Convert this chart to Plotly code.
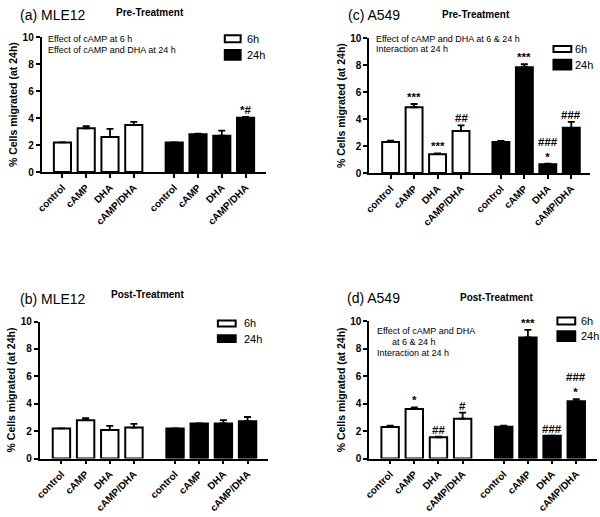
import plotly.graph_objects as go

categories = ["control", "cAMP", "DHA", "cAMP/DHA"]
time_labels = ["6h", "24h"]
y_title = "% Cells migrated (at 24h)"
y_ticks = [0, 2, 4, 6, 8, 10]

# (a) MLE12 Pre-Treatment
a_6h = [2.2, 3.25, 2.6, 3.5]
a_6h_err = [0.0, 0.16, 0.6, 0.22]
a_24h = [2.2, 2.8, 2.7, 4.02]
a_24h_err = [0.0, 0.04, 0.37, 0.07]
a_sig_6h = ["", "", "", ""]
a_sig_24h = ["", "", "", "*#"]
a_notes = ["Effect of cAMP at 6 h", "Effect of cAMP and DHA at 24 h"]

# (c) A549 Pre-Treatment
c_6h = [2.3, 4.88, 1.4, 3.12]
c_6h_err = [0.1, 0.24, 0.06, 0.42]
c_24h = [2.3, 7.85, 0.66, 3.35]
c_24h_err = [0.08, 0.22, 0.04, 0.45]
c_sig_6h = ["", "***", "***", "##"]
c_sig_24h = ["", "***", "###<br>*", "###"]
c_notes = ["Effect of cAMP and DHA at 6 & 24 h", "Interaction at 24 h"]

# (b) MLE12 Post-Treatment
b_6h = [2.2, 2.8, 2.08, 2.26]
b_6h_err = [0.0, 0.15, 0.3, 0.27]
b_24h = [2.2, 2.55, 2.56, 2.73]
b_24h_err = [0.0, 0.02, 0.25, 0.3]
b_sig_6h = ["", "", "", ""]
b_sig_24h = ["", "", "", ""]
b_notes = []

# (d) A549 Post-Treatment
d_6h = [2.3, 3.6, 1.55, 2.9]
d_6h_err = [0.1, 0.13, 0.05, 0.45]
d_24h = [2.32, 8.82, 1.66, 4.18]
d_24h_err = [0.08, 0.55, 0.0, 0.15]
d_sig_6h = ["", "*", "##", "#"]
d_sig_24h = ["", "***", "###", "###<br>*"]
d_notes = ["Effect of cAMP and DHA", "      at 6 & 24 h", "Interaction at 24 h"]

W, H = 600, 517
FONT = "Arial, Liberation Sans, sans-serif"
GROUP_GAP = 4.7


def px(x):
    return x / W


def py(y):
    return 1 - y / H


panels = [
    dict(ax="", v6=a_6h, e6=a_6h_err, v24=a_24h, e24=a_24h_err, s6=a_sig_6h, s24=a_sig_24h,
         xdom=(36, 263), ydom=(170, 32), c0=57, c1=242,
         label="(a) MLE12", label_xy=(12, 9), sub="Pre-Treatment", sub_xy=(145, 7),
         notes=a_notes, notes_xy=[(40, 34), (40, 45)],
         leg=(221, 30, 237, 37, 45, 55, 241)),
    dict(ax="2", v6=c_6h, e6=c_6h_err, v24=c_24h, e24=c_24h_err, s6=c_sig_6h, s24=c_sig_24h,
         xdom=(367, 590), ydom=(171, 33), c0=388.5, c1=571,
         label="(c) A549", label_xy=(343, 9), sub="Pre-Treatment", sub_xy=(475, 9),
         notes=c_notes, notes_xy=[(372, 34), (372, 44)],
         leg=(553, 41, 571, 47, 55, 65, 573)),
    dict(ax="3", v6=b_6h, e6=b_6h_err, v24=b_24h, e24=b_24h_err, s6=b_sig_6h, s24=b_sig_24h,
         xdom=(34, 265), ydom=(463.3, 323), c0=56, c1=244,
         label="(b) MLE12", label_xy=(12, 300), sub="Post-Treatment", sub_xy=(143, 295),
         notes=b_notes, notes_xy=[],
         leg=(214, 322, 232, 328, 337, 344, 238)),
    dict(ax="4", v6=d_6h, e6=d_6h_err, v24=d_24h, e24=d_24h_err, s6=d_sig_6h, s24=d_sig_24h,
         xdom=(367, 597), ydom=(463.3, 322.7), c0=388, c1=576,
         label="(d) A549", label_xy=(342, 299), sub="Post-Treatment", sub_xy=(495, 298),
         notes=d_notes, notes_xy=[(373, 333), (373, 344), (373, 355)],
         leg=(557, 319, 575, 326, 333, 343, 579)),
]

fig = go.Figure()
annotations = []
shapes = []
layout = {}

for p in panels:
    xa = "x" + p["ax"]
    ya = "y" + p["ax"]
    x6 = [i for i in range(len(categories))]
    x24 = [i + GROUP_GAP for i in range(len(categories))]
    last = x24[-1]
    upp = (p["c1"] - p["c0"]) / last  # pixels per unit
    xr = [-(p["c0"] - p["xdom"][0]) / upp, last + (p["xdom"][1] - p["c1"]) / upp]

    for xs, vals, errs, fill, name in [
        (x6, p["v6"], p["e6"], "white", time_labels[0]),
        (x24, p["v24"], p["e24"], "black", time_labels[1]),
    ]:
        fig.add_trace(go.Bar(
            x=xs, y=vals, name=name, width=0.72,
            marker=dict(color=fill, line=dict(color="black", width=2)),
            error_y=dict(type="data", array=errs, arrayminus=[0] * len(errs), symmetric=False,
                         color="black", thickness=1.8, width=3.5),
            xaxis=xa, yaxis=ya, showlegend=False,
        ))

    for xs, vals, errs, sigs in [(x6, p["v6"], p["e6"], p["s6"]), (x24, p["v24"], p["e24"], p["s24"])]:
        for xv, v, e, s in zip(xs, vals, errs, sigs):
            if s:
                annotations.append(dict(
                    x=xv, y=v + e, xref=xa, yref=ya, text=s, showarrow=False,
                    yanchor="bottom", yshift=-1,
                    font=dict(family=FONT, size=11.5, color="black", weight="bold"),
                ))

    suffix = p["ax"]
    layout["xaxis" + suffix] = dict(
        domain=[px(p["xdom"][0]), px(p["xdom"][1])], range=xr, anchor=ya,
        tickvals=x6 + x24, ticktext=categories + categories, tickangle=-45,
        showline=True, linecolor="black", linewidth=1.8, ticks="outside", ticklen=4,
        tickwidth=1.5, tickcolor="black", showgrid=False, zeroline=False,
        tickfont=dict(family=FONT, size=10, color="black", weight="bold"),
    )
    layout["yaxis" + suffix] = dict(
        domain=[py(p["ydom"][0]), py(p["ydom"][1])], range=[0, 10], anchor=xa,
        tickvals=y_ticks, showline=True, linecolor="black", linewidth=1.8,
        ticks="outside", ticklen=4, tickwidth=1.5, tickcolor="black",
        showgrid=False, zeroline=False,
        tickfont=dict(family=FONT, size=10, color="black", weight="bold"),
        title=dict(text=y_title, standoff=3,
                   font=dict(family=FONT, size=10.5, color="black", weight="bold")),
    )

    # panel labels
    annotations.append(dict(x=px(p["label_xy"][0]), y=py(p["label_xy"][1]), xref="paper", yref="paper",
                            text=p["label"], showarrow=False, xanchor="left", yanchor="middle",
                            font=dict(family=FONT, size=14, color="black")))
    annotations.append(dict(x=px(p["sub_xy"][0]), y=py(p["sub_xy"][1]), xref="paper", yref="paper",
                            text=p["sub"], showarrow=False, xanchor="center", yanchor="middle",
                            font=dict(family=FONT, size=10, color="black", weight="bold")))
    for t, (nx, ny) in zip(p["notes"], p["notes_xy"]):
        annotations.append(dict(x=px(nx), y=py(ny), xref="paper", yref="paper",
                                text=t.replace(" ", "&nbsp;") if t.startswith(" ") else t,
                                showarrow=False, xanchor="left", yanchor="middle",
                                font=dict(family=FONT, size=9, color="black")))

    # legend boxes
    lx0, ly0, lx1, ly1, by0, by1, tx = p["leg"]
    shapes.append(dict(type="rect", xref="paper", yref="paper", x0=px(lx0), x1=px(lx1),
                       y0=py(ly1), y1=py(ly0), fillcolor="white", line=dict(color="black", width=2)))
    shapes.append(dict(type="rect", xref="paper", yref="paper", x0=px(lx0), x1=px(lx1),
                       y0=py(by1), y1=py(by0), fillcolor="black", line=dict(color="black", width=2)))
    annotations.append(dict(x=px(tx), y=py((ly0 + ly1) / 2), xref="paper", yref="paper",
                            text=time_labels[0], showarrow=False, xanchor="left", yanchor="middle",
                            font=dict(family=FONT, size=11, color="black")))
    annotations.append(dict(x=px(tx), y=py((by0 + by1) / 2), xref="paper", yref="paper",
                            text=time_labels[1], showarrow=False, xanchor="left", yanchor="middle",
                            font=dict(family=FONT, size=11, color="black")))

fig.update_layout(
    width=W, height=H, margin=dict(l=0, r=0, t=0, b=0),
    paper_bgcolor="white", plot_bgcolor="white", barmode="overlay",
    annotations=annotations, shapes=shapes, **layout,
)

fig.write_html("out.html", config={"displayModeBar": False},
               post_script="document.body.style.margin='0';document.body.style.overflow='hidden';")
